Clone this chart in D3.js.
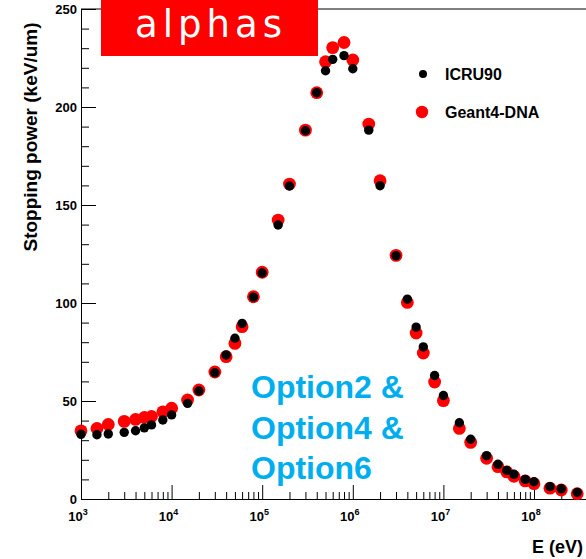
<!DOCTYPE html>
<html><head><meta charset="utf-8">
<script src="https://cdn.jsdelivr.net/npm/d3@7"></script>
<style>
html,body{margin:0;padding:0;background:#fff;}
svg{display:block;font-family:"Liberation Sans",Arial,Helvetica,sans-serif;}
</style></head>
<body><svg id="c" width="586" height="559"></svg>
<script>
const energies = [1e3,1.5e3,2e3,3e3,4e3,5e3,6e3,8e3,
  1e4,1.5e4,2e4,3e4,4e4,5e4,6e4,8e4,
  1e5,1.5e5,2e5,3e5,4e5,5e5,6e5,8e5,
  1e6,1.5e6,2e6,3e6,4e6,5e6,6e6,8e6,
  1e7,1.5e7,2e7,3e7,4e7,5e7,6e7,8e7,
  1e8,1.5e8,2e8,3e8];
const icru90 = [33.0,32.8,33.2,34.0,34.8,36.3,37.8,40.3,
  42.9,48.8,55.1,64.4,73.5,82.0,89.6,103.0,
  115.3,139.8,159.7,187.9,207.3,218.5,224.3,226.2,
  219.5,188.2,159.8,124.1,102.0,87.7,77.6,63.0,
  52.8,38.9,30.5,22.1,17.7,14.6,12.6,10.0,
  8.8,6.3,5.2,3.4];
const geant4dna = [34.8,36.0,38.0,39.6,40.6,41.6,42.1,44.5,
  46.3,50.5,55.6,64.8,72.6,79.4,87.9,103.2,
  115.7,142.3,160.7,188.2,207.3,223.1,230.3,232.9,
  224.0,191.3,162.4,124.3,100.3,84.7,74.5,59.7,
  50.2,36.0,28.9,20.8,16.5,13.8,11.6,9.2,
  7.8,5.5,4.6,2.7];
const yMajorTicks = [0,50,100,150,200,250];
const xDecades = [1e3,1e4,1e5,1e6,1e7,1e8];
const xExponents = ["3","4","5","6","7","8"];
const seriesNames = ["ICRU90","Geant4-DNA"];
const titleText = "alphas";
const noteLines = ["Option2 &","Option4 &","Option6"];

const svg = d3.select("#c");
const L = 81, T = 9, B = 499, dec = 90.6;
const x = d3.scaleLog().domain([1e3,1e9]).range([L, L + 6*dec]);
const y = d3.scaleLinear().domain([0,250]).range([B, T]);

// frame
svg.append("line").attr("x1",L).attr("x2",586).attr("y1",T).attr("y2",T).attr("stroke","#000");

// y axis
const yMinor = d3.range(0,251,10).filter(v => v%50 !== 0);
const gy = svg.append("g").attr("transform",`translate(${L},0)`);
gy.call(d3.axisRight(y).tickValues(yMinor).tickSize(8).tickFormat(""));
gy.append("g").call(d3.axisRight(y).tickValues(yMajorTicks).tickSize(15).tickFormat(""));
gy.selectAll(".domain").attr("stroke","#000");
gy.selectAll("line").attr("stroke","#000");
const gyl = svg.append("g").attr("transform",`translate(${L},0)`)
  .call(d3.axisLeft(y).tickValues(yMajorTicks).tickSize(0).tickPadding(4).tickFormat(d3.format("d")));
gyl.select(".domain").remove();
gyl.selectAll("text").attr("font-size",13).attr("font-weight","bold").attr("fill","#000")
  .attr("font-family","Liberation Sans, Arial, sans-serif");

// x axis
const xMinor = [];
for (let d = 1e3; d < 1e9; d *= 10) for (let k = 2; k <= 9; k++) xMinor.push(d*k);
const gx = svg.append("g").attr("transform",`translate(0,${B})`);
gx.call(d3.axisTop(x).tickValues(xMinor).tickSize(7).tickFormat(""));
gx.append("g").call(d3.axisTop(x).tickValues(xDecades).tickSize(14).tickFormat(""));
gx.selectAll(".domain").attr("stroke","#000");
gx.selectAll("line").attr("stroke","#000");
xDecades.forEach((d,i) => {
  const t = svg.append("text").attr("x", x(d) - 3).attr("y", 521)
    .attr("text-anchor","middle").attr("font-size",13).attr("font-weight","bold");
  t.append("tspan").text("10");
  t.append("tspan").attr("dy",-6).attr("font-size",9).text(xExponents[i]);
});

// axis titles
svg.append("text").attr("x",583).attr("y",553).attr("text-anchor","end")
  .attr("font-size",18).attr("font-weight","bold").text("E (eV)");
svg.append("text").attr("transform","translate(37,137) rotate(-90)")
  .attr("text-anchor","middle").attr("font-size",19).attr("font-weight","bold")
  .text("Stopping power (keV/um)");

// data
const pts = energies.map((e,i) => ({e, a: icru90[i], g: geant4dna[i]}));
svg.append("g").selectAll("circle").data(pts).join("circle")
  .attr("cx", d => x(d.e)).attr("cy", d => y(d.g)).attr("r", 6.4).attr("fill","#ff0000");
svg.append("g").selectAll("circle").data(pts).join("circle")
  .attr("cx", d => x(d.e)).attr("cy", d => y(d.a)).attr("r", 4.7).attr("fill","#000");

// legend
svg.append("circle").attr("cx",423).attr("cy",74).attr("r",4).attr("fill","#000");
svg.append("circle").attr("cx",422).attr("cy",112).attr("r",6.2).attr("fill","#ff0000");
svg.append("text").attr("x",445).attr("y",80).attr("font-size",16).attr("font-weight","bold").text(seriesNames[0]);
svg.append("text").attr("x",445).attr("y",118).attr("font-size",16).attr("font-weight","bold").text(seriesNames[1]);

// title box
svg.append("rect").attr("x",101).attr("y",0).attr("width",217).attr("height",56).attr("fill","#ff0000");
svg.append("text").attr("x",211).attr("y",37).attr("text-anchor","middle")
  .attr("font-size",37).attr("fill","#fff").attr("letter-spacing","5px")
  .attr("font-family","DejaVu Sans, sans-serif").text(titleText);

// note
noteLines.forEach((s,i) => {
  svg.append("text").attr("x",251).attr("y",398 + i*40.5)
    .attr("font-size",32).attr("font-weight","bold").attr("fill","#00aeef").text(s);
});
</script></body></html>
